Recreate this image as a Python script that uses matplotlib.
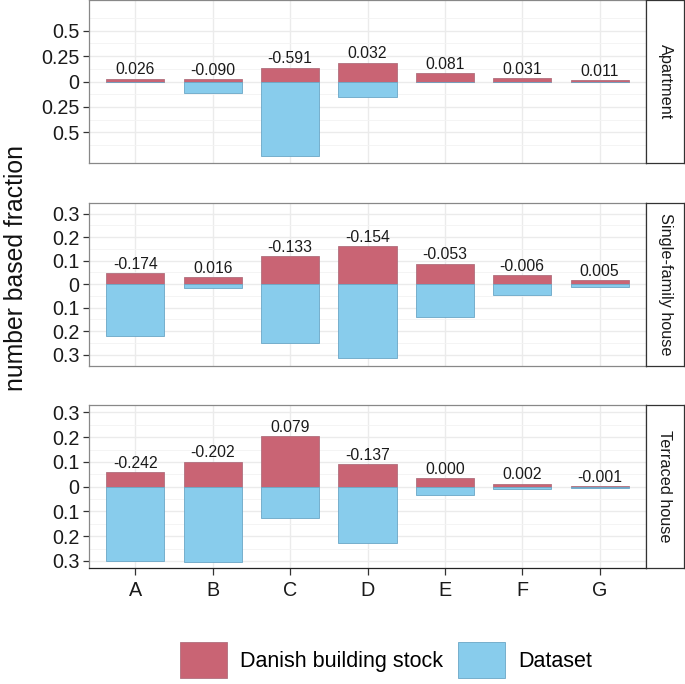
import matplotlib
matplotlib.use("Agg")
import matplotlib.pyplot as plt
from matplotlib.patches import Patch
from matplotlib.ticker import FixedLocator, FuncFormatter

plt.rcParams['font.family'] = ['Liberation Sans', 'DejaVu Sans']

categories = ["A", "B", "C", "D", "E", "F", "G"]
building_types = ["Apartment", "Single-family house", "Terraced house"]

stock_apartment = [0.026, 0.025, 0.137, 0.186, 0.082, 0.031, 0.011]
data_apartment = [0.000, 0.115, 0.728, 0.154, 0.001, 0.000, 0.000]
diff_apartment = ["0.026", "-0.090", "-0.591", "0.032", "0.081", "0.031", "0.011"]

stock_single = [0.047, 0.031, 0.118, 0.162, 0.087, 0.038, 0.018]
data_single = [0.221, 0.015, 0.251, 0.316, 0.140, 0.044, 0.013]
diff_single = ["-0.174", "0.016", "-0.133", "-0.154", "-0.053", "-0.006", "0.005"]

stock_terraced = [0.059, 0.101, 0.205, 0.090, 0.033, 0.012, 0.003]
data_terraced = [0.301, 0.303, 0.126, 0.227, 0.033, 0.010, 0.004]
diff_terraced = ["-0.242", "-0.202", "0.079", "-0.137", "0.000", "0.002", "-0.001"]

stocks = [stock_apartment, stock_single, stock_terraced]
datas = [data_apartment, data_single, data_terraced]
diffs = [diff_apartment, diff_single, diff_terraced]
ylims = [0.80, 0.347, 0.33]
major_ticks = [[-0.5, -0.25, 0, 0.25, 0.5],
               [-0.3, -0.2, -0.1, 0, 0.1, 0.2, 0.3],
               [-0.3, -0.2, -0.1, 0, 0.1, 0.2, 0.3]]

red = "#C96474"
blue = "#88CCEC"
red_edge = "#B0707E"
blue_edge = "#6AA6C6"

W, H = 685, 684
fig = plt.figure(figsize=(W / 100, H / 100), dpi=100)

panel_px = [(0, 163), (202.7, 365.7), (405, 568.3)]
left_px, right_px, strip_right = 89, 646, 684

def fmt(v, pos):
    a = abs(v)
    if a < 1e-9:
        return "0"
    s = ("%.2f" % a).rstrip("0").rstrip(".")
    return s

x = list(range(len(categories)))
for i, (t, b) in enumerate(panel_px):
    ax = fig.add_axes([left_px / W, 1 - b / H, (right_px - left_px) / W, (b - t) / H])
    ax.set_facecolor("white")
    ax.bar(x, stocks[i], width=0.75, color=red, edgecolor=red_edge, linewidth=0.6, zorder=3)
    ax.bar(x, [-d for d in datas[i]], width=0.75, color=blue, edgecolor=blue_edge, linewidth=0.6, zorder=3)
    for xi, s, lab in zip(x, stocks[i], diffs[i]):
        ax.annotate(lab, (xi, s), xytext=(0, 1.0), textcoords="offset points",
                    ha="center", va="bottom", fontsize=11.3, color="#1a1a1a", zorder=4)
    ax.set_xlim(-0.6, 6.6)
    ax.set_ylim(-ylims[i], ylims[i])
    mt = major_ticks[i]
    ax.yaxis.set_major_locator(FixedLocator(mt))
    step = mt[1] - mt[0]
    minors = [m + step / 2 for m in mt[:-1]] + [mt[0] - step / 2, mt[-1] + step / 2]
    ax.yaxis.set_minor_locator(FixedLocator(minors))
    ax.yaxis.set_major_formatter(FuncFormatter(fmt))
    ax.set_xticks(x)
    ax.grid(True, which="major", color="#EBEBEB", linewidth=1.0, zorder=0)
    ax.grid(True, which="minor", axis="y", color="#F3F3F3", linewidth=0.6, zorder=0)
    ax.set_axisbelow(True)
    ax.tick_params(axis="y", which="major", length=4, width=0.9, color="#333333",
                   labelsize=14.2, labelcolor="#1a1a1a", pad=3)
    ax.tick_params(axis="y", which="minor", length=0)
    for sp in ax.spines.values():
        sp.set_color("#888888")
        sp.set_linewidth(0.9)
    if i == 2:
        ax.set_xticklabels(categories)
        ax.tick_params(axis="x", length=5, width=0.9, color="#333333",
                       labelsize=14.2, labelcolor="#1a1a1a", pad=4)
        ax.spines["bottom"].set_color("#222222")
    else:
        ax.tick_params(axis="x", length=0, labelbottom=False)
    sax = fig.add_axes([right_px / W, 1 - b / H, (strip_right - right_px) / W, (b - t) / H])
    sax.set_xticks([])
    sax.set_yticks([])
    sax.set_facecolor("white")
    for sp in sax.spines.values():
        sp.set_color("#333333")
        sp.set_linewidth(0.9)
    sax.text(0.5, 0.5, building_types[i], rotation=-90, ha="center", va="center",
             fontsize=11.7, color="#1a1a1a", transform=sax.transAxes)

fig.text(16 / W, 1 - 268 / H, "number based fraction", rotation=90, ha="center",
         va="center", fontsize=17.8, color="#111111")

handles = [Patch(facecolor=red, edgecolor=red_edge, linewidth=0.6, label="Danish building stock"),
           Patch(facecolor=blue, edgecolor=blue_edge, linewidth=0.6, label="Dataset")]
fig.legend(handles=handles, loc="center", bbox_to_anchor=(386 / W, 1 - 660 / H), ncol=2,
           frameon=False, fontsize=15.5, handlelength=2.2, handleheight=2.15,
           handletextpad=0.6, columnspacing=0.7, borderaxespad=0)

fig.savefig("out.png", dpi=100)
